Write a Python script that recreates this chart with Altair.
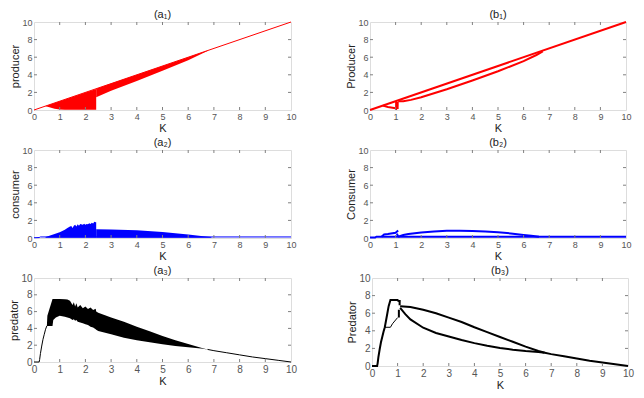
import altair as alt
import pandas as pd

FONT = "Liberation Sans"

# ---------------- data ----------------
# (a1) producer, chaotic band segments and line
a1_seg1_K = [0.45, 0.6, 0.8, 1.0, 1.2, 1.6, 2.0, 2.42]
a1_seg1_lo = [0.42, 0.3, 0.15, 0.05, 0.02, 0.02, 0.02, 0.02]
a1_seg1_hi = [0.45, 0.6, 0.8, 1.0, 1.2, 1.6, 2.0, 2.4]
a1_seg2_K = [2.42, 3.0, 4.0, 5.0, 6.0, 6.75]
a1_seg2_lo = [1.45, 2.2, 3.3, 4.45, 5.65, 6.7]
a1_seg2_hi = [2.42, 3.0, 4.0, 5.0, 6.0, 6.75]
a1_line_K = [0, 10]
a1_line_v = [0, 10]

# (a2) consumer
a2_seg1_K = [0.45, 0.6, 0.8, 1.0, 1.2, 1.3, 1.4, 1.45, 1.5, 1.55, 1.6, 1.65, 1.7, 1.75,
             1.8, 1.9, 1.95, 2.0, 2.05, 2.1, 2.15, 2.2, 2.25, 2.3, 2.35, 2.4, 2.42]
a2_seg1_hi = [0.12, 0.25, 0.45, 0.65, 0.95, 1.15, 1.3, 1.35, 1.15, 1.4, 1.5, 1.3, 1.55, 1.4,
              1.6, 1.5, 1.62, 1.5, 1.6, 1.55, 1.68, 1.6, 1.72, 1.65, 1.85, 1.78, 1.8]
a2_seg2_K = [2.42, 3.0, 4.0, 5.0, 5.5, 6.0, 6.5, 6.9]
a2_seg2_hi = [1.0, 0.97, 0.87, 0.68, 0.55, 0.4, 0.22, 0.12]
a2_lo = 0.03
a2_line_K = [0, 0.2, 0.25, 10]
a2_line_v = [0.03, 0.05, 0.12, 0.12]

# (a3) predator
a3_band_K = [0.5, 0.52, 0.6, 0.7, 0.72, 0.75, 0.85, 1.0, 1.2, 1.3, 1.4, 1.5, 1.55, 1.6, 1.65,
             1.7, 1.8, 1.9, 2.0, 2.1, 2.2, 2.3, 2.4, 2.42, 2.5, 3.0, 3.5, 4.0, 4.5, 5.0,
             5.5, 6.0, 6.5, 6.75]
a3_band_hi = [4.3, 5.5, 6.3, 7.3, 7.5, 7.5, 7.5, 7.5, 7.48, 7.45, 7.3, 6.8, 7.1, 6.6, 7.0,
              6.5, 6.8, 6.4, 6.6, 6.3, 6.5, 6.2, 6.35, 6.0, 5.85, 5.3, 4.8, 4.2, 3.65, 3.1,
              2.6, 2.15, 1.7, 1.5]
a3_band_lo = [4.3, 4.3, 4.3, 4.3, 4.3, 5.0, 5.3, 5.5, 5.4, 5.3, 5.2, 5.0, 5.1, 4.9, 5.0,
              4.8, 4.7, 4.6, 4.5, 4.4, 4.2, 4.1, 3.9, 3.85, 3.7, 3.3, 2.9, 2.6, 2.35, 2.1,
              1.9, 1.75, 1.6, 1.5]
a3_line1_K = [0, 0.2, 0.22, 0.25, 0.3, 0.35, 0.4, 0.45, 0.5]
a3_line1_v = [0, 0, 0.3, 1.0, 1.9, 2.7, 3.3, 3.9, 4.3]
a3_line2_K = [6.75, 7.0, 7.5, 8.0, 8.5, 9.0, 9.5, 10.0]
a3_line2_v = [1.5, 1.35, 1.1, 0.85, 0.6, 0.4, 0.2, 0.0]

# (b1) Producer branches
b1_branches = {
    "eq": ([0, 10], [0, 10]),
    "low": ([1.1, 1.3, 1.6, 2.0, 3.0, 4.0, 5.0, 6.0, 6.5, 6.75],
            [1.0, 1.0, 1.15, 1.45, 2.35, 3.35, 4.4, 5.55, 6.25, 6.65]),
    "tri": ([0.5, 0.7, 1.0], [0.5, 0.35, 0.2]),
    "v1": ([1.02, 1.021], [0.0, 1.0]),
    "v2": ([1.08, 1.081], [0.1, 0.9]),
}
# (b2) Consumer branches
b2_branches = {
    "base": ([0, 0.2, 0.25, 10], [0.05, 0.05, 0.15, 0.15]),
    "loop": ([0.45, 0.55, 0.7, 1.0, 1.1], [0.15, 0.4, 0.45, 0.6, 0.85]),
    "drop": ([1.05, 1.1], [0.5, 0.15]),
    "arc": ([1.1, 1.3, 1.5, 2.0, 2.5, 3.0, 3.5, 4.0, 4.5, 5.0, 5.5, 6.0, 6.3, 6.6],
            [0.15, 0.35, 0.45, 0.62, 0.75, 0.82, 0.83, 0.8, 0.75, 0.65, 0.52, 0.35, 0.25, 0.15]),
}
# (b3) Predator branches
b3_branches = {
    "main": ([0, 0.2, 0.22, 0.25, 0.3, 0.35, 0.4, 0.45, 0.5, 0.55, 0.6, 0.65, 0.72, 1.0, 1.05],
             [0, 0, 0.3, 1.0, 1.9, 2.7, 3.3, 3.9, 4.4, 5.2, 6.0, 6.8, 7.5, 7.5, 7.3]),
    "up": ([1.1, 1.5, 2.0, 2.5, 3.0, 3.5, 4.0, 4.5, 5.0, 5.5, 6.0, 6.5, 6.75],
           [6.8, 6.7, 6.4, 6.0, 5.5, 5.0, 4.4, 3.85, 3.3, 2.75, 2.2, 1.7, 1.5]),
    "low": ([1.1, 1.3, 1.5, 2.0, 2.5, 3.0, 3.5, 4.0, 4.5, 5.0, 5.5, 6.0, 6.5, 6.75],
            [6.6, 5.9, 5.3, 4.35, 3.75, 3.35, 2.95, 2.6, 2.3, 2.05, 1.85, 1.7, 1.6, 1.5]),
    "tail": ([6.75, 7.0, 7.5, 8.0, 8.5, 9.0, 9.5, 10.0],
             [1.5, 1.35, 1.1, 0.85, 0.6, 0.4, 0.2, 0.0]),
    "blob1": ([1.05, 1.051], [5.5, 6.4]),
    "blob2": ([1.08, 1.081], [6.9, 7.5]),
}
b3_thin = ([0.5, 0.72, 0.8, 1.0], [4.4, 4.4, 4.8, 5.5])

x_ticks = list(range(0, 11))
y_ticks = [0, 2, 4, 6, 8, 10]


def branches_df(br):
    rows = []
    for name, (ks, vs) in br.items():
        for i, (k, v) in enumerate(zip(ks, vs)):
            rows.append({"K": k, "v": v, "seg": name, "o": i})
    return pd.DataFrame(rows)


def panel(title, ylabel, color, w, h, fs, areas=None, lines=None, thick=None, thin=None):
    xs = alt.Scale(domain=[0, 10], nice=False, zero=False)
    ys = alt.Scale(domain=[0, 10], nice=False, zero=False)
    xa = alt.Axis(values=x_ticks, tickSize=0, domain=False, grid=False, labelFont=FONT,
                  labelFontSize=fs, labelColor="#555555", labelPadding=2, title="K",
                  titleFont=FONT, titleFontSize=11, titleFontWeight="normal",
                  titleColor="#222222", titlePadding=1, labelFlush=False)
    ya = alt.Axis(values=y_ticks, tickSize=0, domain=False, grid=False, labelFont=FONT,
                  labelFontSize=fs, labelColor="#555555", labelPadding=2, title=ylabel,
                  titleFont=FONT, titleFontSize=11, titleFontWeight="normal",
                  titleColor="#222222", titlePadding=1, labelFlush=False)
    X = alt.X("K:Q", scale=xs, axis=xa)
    Y = alt.Y("v:Q", scale=ys, axis=ya)
    layers = []
    if areas is not None:
        layers.append(alt.Chart(areas).mark_area(color=color, opacity=1, line=False).encode(
            x=X, y=Y, y2="v2:Q", detail="seg:N"))
    if lines is not None:
        layers.append(alt.Chart(lines).mark_line(color=color, strokeWidth=1).encode(
            x=X, y=Y, detail="seg:N", order="o:Q"))
    if thick is not None:
        layers.append(alt.Chart(thick).mark_line(color=color, strokeWidth=2).encode(
            x=X, y=Y, detail="seg:N", order="o:Q"))
    if thin is not None:
        layers.append(alt.Chart(thin).mark_line(color=color, strokeWidth=1).encode(
            x=X, y=Y, detail="seg:N", order="o:Q"))
    xt = pd.DataFrame({"K": x_ticks[1:-1]})
    yt = pd.DataFrame({"v": y_ticks[1:-1]})
    tc = "#808080"
    layers.append(alt.Chart(xt).mark_rule(color=tc, strokeWidth=1).encode(
        x=X, y=alt.value(h), y2=alt.value(h - 3)))
    layers.append(alt.Chart(xt).mark_rule(color=tc, strokeWidth=1).encode(
        x=X, y=alt.value(0), y2=alt.value(3)))
    layers.append(alt.Chart(yt).mark_rule(color=tc, strokeWidth=1).encode(
        y=Y, x=alt.value(0), x2=alt.value(3)))
    layers.append(alt.Chart(yt).mark_rule(color=tc, strokeWidth=1).encode(
        y=Y, x=alt.value(w - 3), x2=alt.value(w)))
    tdf = pd.DataFrame({"t": [title]})
    layers.append(alt.Chart(tdf).mark_text(font=FONT, fontSize=11, color="#222222",
                                           align="center", baseline="alphabetic").encode(
        x=alt.value(w / 2), y=alt.value(-4), text="t:N"))
    return alt.layer(*layers).properties(width=w, height=h)


def area_df(segs):
    rows = []
    for name, ks, lo, hi in segs:
        for i, k in enumerate(ks):
            l = lo[i] if isinstance(lo, list) else lo
            rows.append({"K": k, "v": l, "v2": hi[i], "seg": name})
    return pd.DataFrame(rows)


def line_df(pairs):
    rows = []
    for name, ks, vs in pairs:
        for i, (k, v) in enumerate(zip(ks, vs)):
            rows.append({"K": k, "v": v, "seg": name, "o": i})
    return pd.DataFrame(rows)


W = 257
RED, BLUE, BLK = "#ff0000", "#0000ff", "#000000"

pa1 = panel("(a\u2081)", "producer", RED, W, 88, 9,
            areas=area_df([("s1", a1_seg1_K, a1_seg1_lo, a1_seg1_hi),
                           ("s2", a1_seg2_K, a1_seg2_lo, a1_seg2_hi)]),
            lines=line_df([("l", a1_line_K, a1_line_v)]))
pb1 = panel("(b\u2081)", "Producer", RED, 256, 88, 9, thick=branches_df(b1_branches))
pa2 = panel("(a\u2082)", "consumer", BLUE, W, 88, 9,
            areas=area_df([("s1", a2_seg1_K, a2_lo, a2_seg1_hi),
                           ("s2", a2_seg2_K, a2_lo, a2_seg2_hi)]),
            lines=line_df([("l", a2_line_K, a2_line_v)]))
pb2 = panel("(b\u2082)", "Consumer", BLUE, 256, 88, 9, thick=branches_df(b2_branches))
pa3 = panel("(a\u2083)", "predator", BLK, W, 84, 10,
            areas=area_df([("s1", a3_band_K, a3_band_lo, a3_band_hi)]),
            lines=line_df([("l1", a3_line1_K, a3_line1_v), ("l2", a3_line2_K, a3_line2_v)]))
pb3 = panel("(b\u2083)", "Predator", BLK, 256, 88, 10, thick=branches_df(b3_branches),
            thin=line_df([("t", b3_thin[0], b3_thin[1])]))

chart = alt.vconcat(
    alt.hconcat(pa1, pb1, spacing=48),
    alt.hconcat(pa2, pb2, spacing=48),
    alt.hconcat(pa3, pb3, spacing=48),
    spacing=2,
).properties(padding={"left": 0, "top": 0, "right": 0, "bottom": 0}).configure_view(
    stroke="#808080", strokeWidth=1).configure(background="white")

chart.save("out.html", embed_options={"renderer": "svg", "actions": False})
